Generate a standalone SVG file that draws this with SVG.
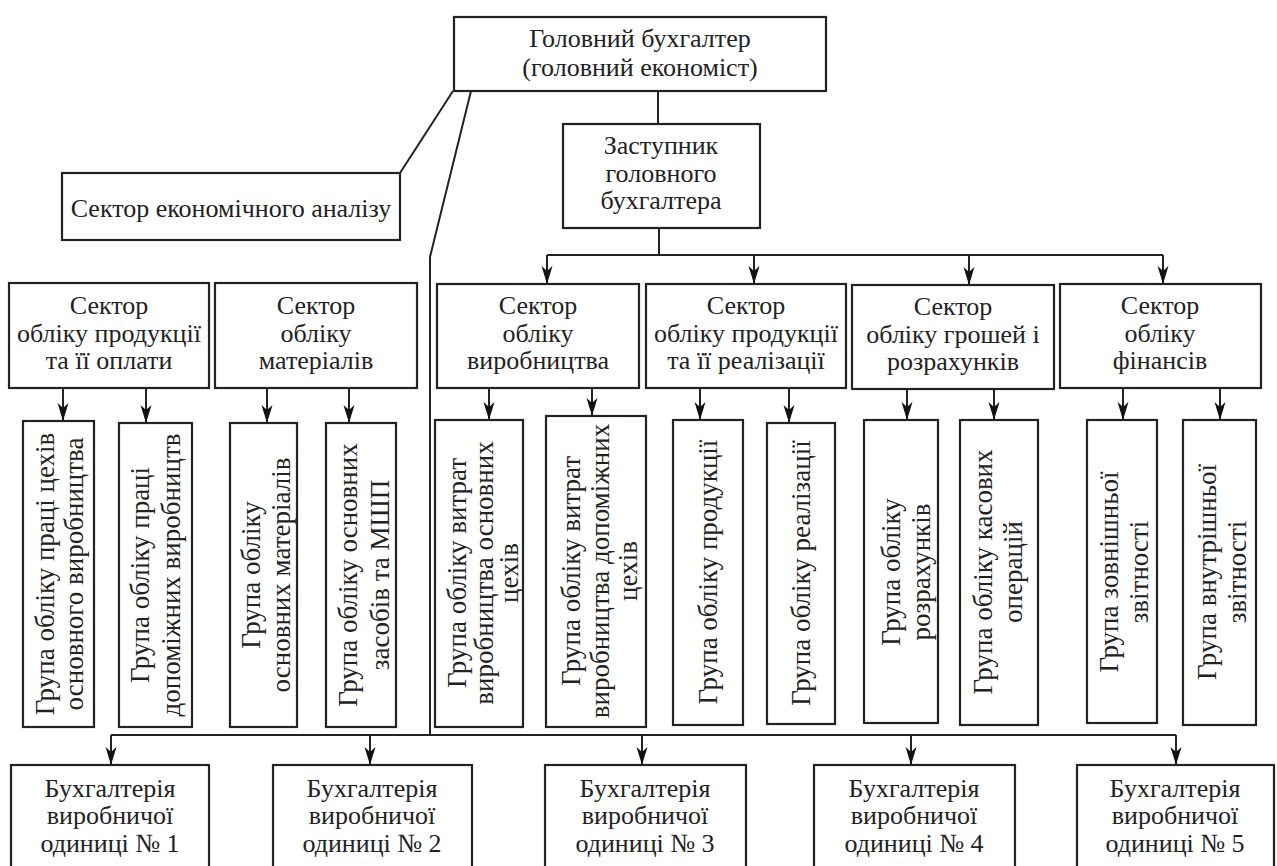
<svg xmlns="http://www.w3.org/2000/svg" width="1277" height="866" viewBox="0 0 1277 866">
<style>
rect.n{fill:#fff;stroke:#222;stroke-width:2.2}
text{font-size:26px;fill:#222;text-anchor:middle;dominant-baseline:central}
text.v{font-size:27px}
.c{fill:none;stroke:#222;stroke-width:2}
</style>
<defs>
<marker id="ar" markerUnits="userSpaceOnUse" markerWidth="20" markerHeight="14" refX="18" refY="7" orient="auto">
<path d="M0,1.5 L18,7 L0,12.5 L5,7 Z" fill="#111"/>
</marker>
</defs>
<rect width="1277" height="866" fill="#fff"/>
<g id="connectors">
<path class="c" d="M453,91 L400,173"/>
<path class="c" d="M471,91 L430,257 L430,735"/>
<path class="c" d="M658,91 L658,124"/>
<path class="c" d="M659,228 L659,255"/>
<path class="c" d="M547,255 L1163,255"/>
<path class="c" marker-end="url(#ar)" d="M547,255 L547,284"/>
<path class="c" marker-end="url(#ar)" d="M754,255 L754,284"/>
<path class="c" marker-end="url(#ar)" d="M969,255 L969,285"/>
<path class="c" marker-end="url(#ar)" d="M1163,255 L1163,284"/>
<path class="c" marker-end="url(#ar)" d="M63,388 L63,421"/>
<path class="c" marker-end="url(#ar)" d="M146,388 L146,423"/>
<path class="c" marker-end="url(#ar)" d="M267,388 L267,423"/>
<path class="c" marker-end="url(#ar)" d="M349,388 L349,423"/>
<path class="c" marker-end="url(#ar)" d="M489,388 L489,420"/>
<path class="c" marker-end="url(#ar)" d="M592,388 L592,416"/>
<path class="c" marker-end="url(#ar)" d="M700,388 L700,420"/>
<path class="c" marker-end="url(#ar)" d="M789,388 L789,423"/>
<path class="c" marker-end="url(#ar)" d="M907,389 L907,420"/>
<path class="c" marker-end="url(#ar)" d="M994,389 L994,420"/>
<path class="c" marker-end="url(#ar)" d="M1123,388 L1123,420"/>
<path class="c" marker-end="url(#ar)" d="M1220,388 L1220,420"/>
<path class="c" d="M111,735 L1176,735"/>
<path class="c" marker-end="url(#ar)" d="M111,735 L111,765"/>
<path class="c" marker-end="url(#ar)" d="M370,735 L370,765"/>
<path class="c" marker-end="url(#ar)" d="M642,735 L642,765"/>
<path class="c" marker-end="url(#ar)" d="M911,735 L911,765"/>
<path class="c" marker-end="url(#ar)" d="M1176,735 L1176,765"/>
</g>
<g font-family="Liberation Serif, Times New Roman, DejaVu Serif, serif">
<g id="chief"><rect class="n" x="454" y="17" width="372" height="74"/><text x="640" y="38">Головний бухгалтер</text><text x="640" y="67">(головний економіст)</text></g>
<g id="deputy"><rect class="n" x="563" y="124" width="197" height="104"/><text x="661" y="145">Заступник</text><text x="661" y="173">головного</text><text x="661" y="200">бухгалтера</text></g>
<g id="econ"><rect class="n" x="62" y="173" width="338" height="67"/><text x="231" y="208">Сектор економічного аналізу</text></g>
<g id="s1"><rect class="n" x="9" y="283" width="200" height="105"/><text x="109" y="305">Сектор</text><text x="109" y="333">обліку продукції</text><text x="109" y="360">та її оплати</text></g>
<g id="s2"><rect class="n" x="215" y="283" width="202" height="105"/><text x="316" y="305">Сектор</text><text x="316" y="333">обліку</text><text x="316" y="360">матеріалів</text></g>
<g id="s3"><rect class="n" x="437" y="284" width="202" height="104"/><text x="538" y="305">Сектор</text><text x="538" y="333">обліку</text><text x="538" y="360">виробництва</text></g>
<g id="s4"><rect class="n" x="646" y="284" width="200" height="104"/><text x="746" y="305">Сектор</text><text x="746" y="333">обліку продукції</text><text x="746" y="360">та її реалізації</text></g>
<g id="s5"><rect class="n" x="852" y="285" width="202" height="104"/><text x="953" y="306">Сектор</text><text x="953" y="334">обліку грошей і</text><text x="953" y="361">розрахунків</text></g>
<g id="s6"><rect class="n" x="1060" y="284" width="201" height="104"/><text x="1160" y="305">Сектор</text><text x="1160" y="333">обліку</text><text x="1160" y="360">фінансів</text></g>
<g id="g1"><rect class="n" x="23" y="421" width="71" height="306"/><text class="v" transform="translate(45,574) rotate(-90)">Група обліку праці цехів</text><text class="v" transform="translate(74,574) rotate(-90)">основного виробництва</text></g>
<g id="g2"><rect class="n" x="119" y="423" width="73" height="304"/><text class="v" transform="translate(140,575) rotate(-90)">Група обліку праці</text><text class="v" transform="translate(171,575) rotate(-90)">допоміжних виробництв</text></g>
<g id="g3"><rect class="n" x="230" y="423" width="67" height="304"/><text class="v" transform="translate(251,575) rotate(-90)">Група обліку</text><text class="v" transform="translate(281,575) rotate(-90)">основних матеріалів</text></g>
<g id="g4"><rect class="n" x="326" y="423" width="70" height="304"/><text class="v" transform="translate(348,575) rotate(-90)">Група обліку основних</text><text class="v" transform="translate(380,575) rotate(-90)">засобів та МШП</text></g>
<g id="g5"><rect class="n" x="435" y="420" width="88" height="307"/><text class="v" transform="translate(457,573) rotate(-90)">Група обліку витрат</text><text class="v" transform="translate(484,573) rotate(-90)">виробництва основних</text><text class="v" transform="translate(509,573) rotate(-90)">цехів</text></g>
<g id="g6"><rect class="n" x="546" y="416" width="100" height="311"/><text class="v" transform="translate(571,571) rotate(-90)">Група обліку витрат</text><text class="v" transform="translate(600,571) rotate(-90)">виробництва допоміжних</text><text class="v" transform="translate(628,571) rotate(-90)">цехів</text></g>
<g id="g7"><rect class="n" x="673" y="420" width="70" height="305"/><text class="v" transform="translate(708,572) rotate(-90)">Група обліку продукції</text></g>
<g id="g8"><rect class="n" x="767" y="423" width="68" height="301"/><text class="v" transform="translate(801,573) rotate(-90)">Група обліку реалізації</text></g>
<g id="g9"><rect class="n" x="864" y="420" width="74" height="303"/><text class="v" transform="translate(891,572) rotate(-90)">Група обліку</text><text class="v" transform="translate(921,572) rotate(-90)">розрахунків</text></g>
<g id="g10"><rect class="n" x="960" y="420" width="78" height="305"/><text class="v" transform="translate(983,572) rotate(-90)">Група обліку касових</text><text class="v" transform="translate(1013,572) rotate(-90)">операцій</text></g>
<g id="g11"><rect class="n" x="1087" y="420" width="70" height="303"/><text class="v" transform="translate(1109,572) rotate(-90)">Група зовнішньої</text><text class="v" transform="translate(1139,572) rotate(-90)">звітності</text></g>
<g id="g12"><rect class="n" x="1183" y="420" width="73" height="305"/><text class="v" transform="translate(1207,572) rotate(-90)">Група внутрішньої</text><text class="v" transform="translate(1237,572) rotate(-90)">звітності</text></g>
<g id="b1"><rect class="n" x="11" y="765" width="198" height="120"/><text x="110" y="788">Бухгалтерія</text><text x="110" y="815">виробничої</text><text x="110" y="843">одиниці № 1</text></g>
<g id="b2"><rect class="n" x="273" y="765" width="199" height="120"/><text x="372" y="788">Бухгалтерія</text><text x="372" y="815">виробничої</text><text x="372" y="843">одиниці № 2</text></g>
<g id="b3"><rect class="n" x="545" y="765" width="201" height="120"/><text x="645" y="788">Бухгалтерія</text><text x="645" y="815">виробничої</text><text x="645" y="843">одиниці № 3</text></g>
<g id="b4"><rect class="n" x="814" y="765" width="201" height="120"/><text x="914" y="788">Бухгалтерія</text><text x="914" y="815">виробничої</text><text x="914" y="843">одиниці № 4</text></g>
<g id="b5"><rect class="n" x="1077" y="765" width="197" height="120"/><text x="1175" y="788">Бухгалтерія</text><text x="1175" y="815">виробничої</text><text x="1175" y="843">одиниці № 5</text></g>
</g>
</svg>
